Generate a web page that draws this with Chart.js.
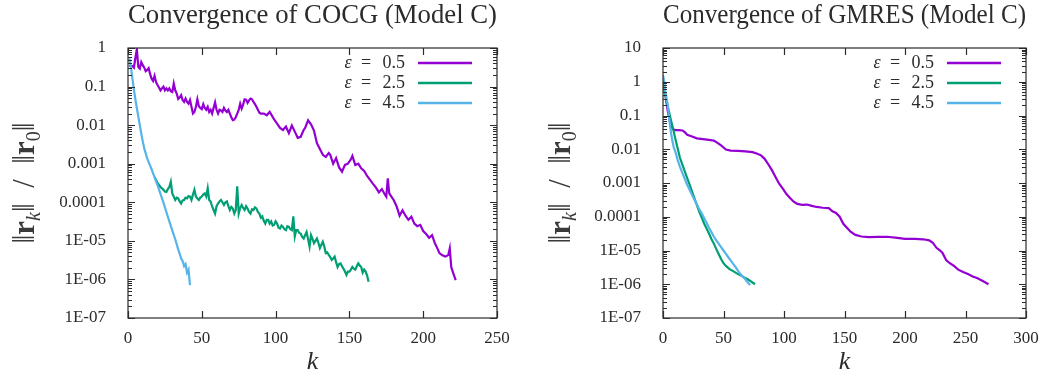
<!DOCTYPE html>
<html>
<head>
<meta charset="utf-8">
<script src="https://cdn.jsdelivr.net/npm/chart.js@4.4.1/dist/chart.umd.min.js"></script>
<style>
  html, body { margin: 0; padding: 0; background: #fff; }
  #wrap { position: relative; width: 1050px; height: 378px; }
  .panel { position: absolute; top: 0; width: 525px; height: 378px; }
</style>
</head>
<body>
<div id="wrap">
  <div class="panel" style="left:0"><canvas id="cocg" width="525" height="378"></canvas></div>
  <div class="panel" style="left:525px"><canvas id="gmres" width="525" height="378"></canvas></div>
</div>
<script>
// ---- shift parameters for the three runs ----
const epsValues = ['0.5', '2.5', '4.5'];
const seriesColors = ['#9400d3', '#009e73', '#56b4e9'];

// ---- axis ticks ----
const xTicksCocg = [0, 50, 100, 150, 200, 250];
const xTicksGmres = [0, 50, 100, 150, 200, 250, 300];
const yTicksCocg = [1, 0.1, 0.01, 0.001, 0.0001, 1e-5, 1e-6, 1e-7];
const yTickLabelsCocg = ['1', '0.1', '0.01', '0.001', '0.0001', '1E-05', '1E-06', '1E-07'];
const yTicksGmres = [10, 1, 0.1, 0.01, 0.001, 0.0001, 1e-5, 1e-6, 1e-7];
const yTickLabelsGmres = ['10', '1', '0.1', '0.01', '0.001', '0.0001', '1E-05', '1E-06', '1E-07'];

// ---- COCG, eps = 0.5 : iteration k and relative residual ----
const cocgK05 = [1,2,3,4,5,6,7,8,9,10,11,12,13,14,15,16,17,18,19,20,21,22,23,24,25,26,27,28,29,30,
  31,32,33,34,35,36,37,38,39,40,41,42,43,44,45,46,47,48,49,50,51,52,53,54,55,56,57,58,59,60,
  61,62,63,64,65,66,67,68,69,70,71,72,73,74,75,76,77,78,79,80,81,82,83,84,85,86,87,88,89,90,
  92,94,96,97,99,101,103,105,107,109,111,113,115,117,119,120,122,124,126,128,130,132,134,136,137,
  139,141,143,145,147,149,151,152,154,156,158,160,162,164,166,168,170,172,174,175,176,177,179,180,
  182,184,186,188,190,192,194,196,198,200,202,204,206,208,209,211,213,215,217,218,219,220,222];
const cocgRes05 = [0.36,0.33,0.34,0.31,0.55,0.93,0.32,0.29,0.43,0.36,0.31,0.25,0.27,0.3,0.21,0.16,0.14,0.19,0.13,0.11,
  0.095,0.08,0.09,0.1,0.08,0.09,0.08,0.09,0.076,0.072,0.12,0.08,0.066,0.048,0.052,0.06,0.045,0.04,0.049,0.04,
  0.036,0.045,0.03,0.02,0.022,0.03,0.047,0.031,0.028,0.026,0.035,0.028,0.025,0.03,0.022,0.025,0.02,0.028,0.039,0.025,
  0.02,0.025,0.024,0.022,0.028,0.024,0.022,0.025,0.02,0.016,0.0135,0.014,0.016,0.02,0.025,0.036,0.027,0.034,0.047,0.046,
  0.038,0.044,0.049,0.047,0.04,0.035,0.03,0.025,0.021,0.02,
  0.02,0.018,0.022,0.019,0.014,0.011,0.0085,0.0075,0.0092,0.0062,0.0098,0.0068,0.0047,0.005,0.0075,0.0085,0.0133,0.0105,0.0072,
  0.0034,0.0024,0.0017,0.0015,0.0019,0.0017,0.001,0.0014,0.0008,0.00062,0.00093,0.001,0.0013,0.0016,0.00093,0.001,
  0.00076,0.00065,0.00048,0.00038,0.0003,0.00024,0.00018,0.00022,0.00016,0.00014,0.00042,0.00017,0.00013,0.000115,
  7.8e-5,4.5e-5,6.2e-5,4.5e-5,3.5e-5,4.2e-5,2.8e-5,2.4e-5,2.6e-5,1.8e-5,1.5e-5,1.2e-5,1.4e-5,8.5e-6,7.2e-6,
  4.8e-6,4.2e-6,3.9e-6,4.3e-6,6.4e-6,2.1e-6,1.6e-6,9.6e-7];

// ---- COCG, eps = 2.5 : consecutive iterations starting at k = 18 ----
const cocgStart25 = 18;
const cocgRes25 = [4.5e-4,3.8e-4,3.2e-4,2.8e-4,2.5e-4,2.3e-4,2.1e-4,1.9e-4,1.86e-4,2.2e-4,
  2.5e-4,3.4e-4,1.7e-4,1.4e-4,1.15e-4,1.32e-4,1.26e-4,1.05e-4,9.3e-5,1.12e-4,
  1.15e-4,1.32e-4,1.26e-4,1.45e-4,1.41e-4,1.15e-4,1.58e-4,2.1e-4,1.41e-4,1.26e-4,
  1.15e-4,1.32e-4,1.41e-4,1.58e-4,1.7e-4,1.41e-4,2.3e-4,1.15e-4,1.05e-4,7.8e-5,
  6.3e-5,5.1e-5,7.9e-5,9.3e-5,1.05e-4,1.15e-4,1.0e-4,8.5e-5,1.0e-4,1.05e-4,
  7.9e-5,6.3e-5,7.6e-5,6.9e-5,5.1e-5,6.3e-5,2.6e-4,5.1e-5,7.1e-5,8.5e-5,
  7.1e-5,6.3e-5,7.9e-5,6.9e-5,5.6e-5,5.1e-5,6.6e-5,6.3e-5,7.4e-5,6.9e-5,
  5.6e-5,5.1e-5,4.0e-5,4.3e-5,3.3e-5,2.8e-5,3.5e-5,3.5e-5,2.8e-5,3.2e-5,
  2.5e-5,2.6e-5,3.2e-5,2.8e-5,2.2e-5,2.1e-5,2.5e-5,2.3e-5,2.0e-5,1.9e-5,
  2.4e-5,2.3e-5,2.0e-5,1.9e-5,4.3e-5,1.3e-5,1.9e-5,1.9e-5,1.6e-5,1.55e-5,
  1.26e-5,1.15e-5,1.4e-5,1.7e-5,1.12e-5,7.1e-6,1.4e-5,1.12e-5,8.7e-6,1.0e-5,
  1.15e-5,8.9e-6,6.5e-6,7.9e-6,9.5e-6,7.1e-6,4.8e-6,5.0e-6,4.3e-6,3.8e-6,
  3.2e-6,3.5e-6,3.9e-6,2.8e-6,2.1e-6,2.5e-6,2.6e-6,2.2e-6,1.9e-6,1.6e-6,
  1.3e-6,1.6e-6,1.6e-6,1.8e-6,2.1e-6,1.9e-6,1.8e-6,2.2e-6,2.6e-6,2.3e-6,
  2.1e-6,1.5e-6,1.8e-6,1.6e-6,1.26e-6,8.7e-7];

// ---- COCG, eps = 4.5 ----
const cocgK45 = [1,2,3,4,5,6,7,8,9,10,11,12,13,14,15,16,17,18,19,20,22,24,26,28,30,32,34,35,36,37,38,39,40,41,42];
const cocgRes45 = [0.54,0.32,0.16,0.083,0.047,0.0275,0.0166,0.01,0.006,0.0038,0.0025,0.00186,0.00138,0.0011,0.00089,
  0.00071,0.00056,0.00045,0.00035,0.00028,0.000166,9.8e-5,5.6e-5,3.2e-5,1.86e-5,1.1e-5,6.0e-6,4.7e-6,3.5e-6,3.0e-6,
  2.2e-6,2.5e-6,1.5e-6,1.8e-6,7.1e-7];

// ---- GMRES, eps = 0.5 ----
const gmresK05 = [0,2,4,6,8,10,13,16,18,20,24,28,33,38,42,45,48,52,56,62,68,74,78,81,84,87,90,93,96,99,
  102,105,108,111,115,119,123,127,132,137,140,143,146,149,152,155,159,164,170,178,185,192,200,208,215,
  220,223,226,229,231,234,237,240,244,248,252,256,260,265,269];
const gmresRes05 = [1.2,0.4,0.13,0.06,0.04,0.037,0.037,0.036,0.032,0.027,0.024,0.021,0.02,0.019,0.018,0.0155,0.013,
  0.0098,0.0091,0.0089,0.0086,0.0082,0.0074,0.0066,0.0052,0.0036,0.0024,0.0015,0.00095,0.00068,
  0.00047,0.00036,0.00028,0.00024,0.000225,0.00023,0.00021,0.000195,0.000185,0.00018,0.000145,0.00013,0.0001,
  6.2e-5,4.7e-5,3.6e-5,2.9e-5,2.6e-5,2.5e-5,2.52e-5,2.55e-5,2.4e-5,2.2e-5,2.2e-5,2.15e-5,
  2.0e-5,1.7e-5,1.2e-5,1.0e-5,8.5e-6,5.2e-6,4.2e-6,3.6e-6,2.7e-6,2.3e-6,2.0e-6,1.7e-6,1.5e-6,1.2e-6,1.0e-6];

// ---- GMRES, eps = 2.5 ----
const gmresK25 = [0,1,2,3,4,5,6,7,8,9,10,12,14,16,18,20,22,24,26,28,30,32,34,36,38,40,42,44,46,48,50,52,55,58,61,64,67,70,73,76];
const gmresRes25 = [1.3,0.63,0.4,0.25,0.178,0.126,0.089,0.063,0.045,0.032,0.022,0.011,0.0056,0.0035,0.0022,0.0014,
  0.00089,0.00056,0.00035,0.00022,0.00014,9.5e-5,6.3e-5,4.5e-5,3.2e-5,2.2e-5,1.6e-5,1.12e-5,7.9e-6,5.6e-6,
  4.2e-6,3.5e-6,2.8e-6,2.45e-6,2.1e-6,1.86e-6,1.6e-6,1.4e-6,1.2e-6,1.0e-6];

// ---- GMRES, eps = 4.5 ----
const gmresK45 = [0,1,2,3,4,5,6,7,8,9,10,12,14,16,18,20,22,24,26,28,30,32,34,36,38,40,42,44,46,48,50,52,54,56,58,60,62,64,66,68,70,72];
const gmresRes45 = [1.6,1.0,0.5,0.32,0.2,0.089,0.045,0.025,0.016,0.011,0.0089,0.005,0.003,0.002,0.00132,0.00089,
  0.00063,0.00044,0.00032,0.00023,0.000166,0.000126,9.1e-5,6.6e-5,4.7e-5,3.5e-5,2.6e-5,2.0e-5,1.6e-5,1.26e-5,
  1.0e-5,7.9e-6,6.3e-6,5.0e-6,4.0e-6,3.2e-6,2.5e-6,2.0e-6,1.66e-6,1.4e-6,1.15e-6,9.5e-7];

// ---------------------------------------------------------------
const SERIF = '"Liberation Serif", "DejaVu Serif", serif';
const INK = '#2b2b2b';

function toPoints(ks, vals) {
  return vals.map((v, i) => ({ x: ks[i], y: v }));
}
function iterations(start, count) {
  return Array.from({ length: count }, (_, i) => start + i);
}

// plot frame with inward major/minor ticks on all four sides
const framePlugin = {
  id: 'gnuFrame',
  afterDatasetsDraw(chart) {
    const { ctx, chartArea: a, scales: { x, y } } = chart;
    ctx.save();
    ctx.strokeStyle = INK;
    ctx.lineWidth = 1.2;
    ctx.strokeRect(a.left, a.top, a.right - a.left, a.bottom - a.top);
    ctx.beginPath();
    x.ticks.forEach(t => {
      const px = Math.round(x.getPixelForValue(t.value)) + 0.5;
      ctx.moveTo(px, a.bottom); ctx.lineTo(px, a.bottom - 7);
      ctx.moveTo(px, a.top); ctx.lineTo(px, a.top + 7);
    });
    const lo = Math.round(Math.log10(y.min));
    const hi = Math.round(Math.log10(y.max));
    for (let e = lo; e <= hi; e++) {
      for (let m = 1; m <= 9; m++) {
        const v = m * Math.pow(10, e);
        if (v > y.max * 1.0001) break;
        const py = Math.round(y.getPixelForValue(v)) + 0.5;
        const len = m === 1 ? 7 : 4;
        ctx.moveTo(a.left, py); ctx.lineTo(a.left + len, py);
        ctx.moveTo(a.right, py); ctx.lineTo(a.right - len, py);
      }
    }
    ctx.stroke();
    ctx.restore();
  }
};

// legend in the upper right of the plot: "ε = value" followed by a line sample
const epsLegendPlugin = {
  id: 'epsLegend',
  afterDatasetsDraw(chart) {
    const { ctx, chartArea: a } = chart;
    ctx.save();
    chart.data.datasets.forEach((ds, i) => {
      const yy = a.top + 15 + 20 * i;
      const [sym, val] = ds.label.split(' = ');
      ctx.fillStyle = INK;
      ctx.textBaseline = 'middle';
      ctx.font = `18px ${SERIF}`;
      ctx.textAlign = 'right';
      ctx.fillText(val, a.right - 92, yy);
      ctx.textAlign = 'center';
      ctx.fillText('=', a.right - 131, yy);
      ctx.font = `italic 18px ${SERIF}`;
      ctx.fillText(sym, a.right - 149, yy);
      ctx.strokeStyle = ds.borderColor;
      ctx.lineWidth = 2.4;
      ctx.beginPath();
      ctx.moveTo(a.right - 79, yy);
      ctx.lineTo(a.right - 25, yy);
      ctx.stroke();
    });
    ctx.restore();
  }
};

// rotated y-axis caption  ‖r_k‖ / ‖r_0‖
const normTitlePlugin = {
  id: 'normTitle',
  afterDraw(chart, args, opts) {
    const { ctx, chartArea: a } = chart;
    const big = 31, small = 20;
    const parts = [
      { t: '‖', f: `${big}px ${SERIF}` },
      { t: 'r', f: `bold ${big}px ${SERIF}` },
      { t: 'k', f: `italic ${small}px ${SERIF}`, dy: 6 },
      { t: '‖  /  ‖', f: `${big}px ${SERIF}` },
      { t: 'r', f: `bold ${big}px ${SERIF}` },
      { t: '0', f: `${small}px ${SERIF}`, dy: 6 },
      { t: '‖', f: `${big}px ${SERIF}` }
    ];
    ctx.save();
    let total = 0;
    parts.forEach(p => { ctx.font = p.f; p.w = ctx.measureText(p.t).width; total += p.w; });
    ctx.translate(opts.x, (a.top + a.bottom) / 2);
    ctx.rotate(-Math.PI / 2);
    ctx.fillStyle = '#3a3a3a';
    ctx.textBaseline = 'alphabetic';
    ctx.textAlign = 'left';
    let cx = -total / 2;
    parts.forEach(p => {
      ctx.font = p.f;
      ctx.fillText(p.t, cx, big * 0.33 + (p.dy || 0));
      cx += p.w;
    });
    ctx.restore();
  }
};

function makeChart(canvasId, cfg) {
  const datasets = cfg.series.map((pts, i) => ({
    label: `ε = ${epsValues[i]}`,
    data: pts,
    borderColor: seriesColors[i],
    backgroundColor: seriesColors[i],
    borderWidth: 2.2,
    pointRadius: 0,
    tension: 0,
    fill: false,
    order: cfg.series.length - i
  }));
  return new Chart(document.getElementById(canvasId), {
    type: 'line',
    data: { datasets },
    plugins: [framePlugin, epsLegendPlugin, normTitlePlugin],
    options: {
      responsive: false,
      animation: false,
      devicePixelRatio: 1,
      parsing: false,
      layout: { padding: { left: 0, right: cfg.padRight, top: 0, bottom: 0 } },
      plugins: {
        legend: { display: false },
        tooltip: { enabled: false },
        title: {
          display: true,
          text: cfg.title,
          fullSize: false,
          color: INK,
          font: { family: SERIF, size: 27, weight: 'normal' },
          padding: { top: 0, bottom: 15.6 }
        },
        normTitle: { x: cfg.yTitleX }
      },
      scales: {
        x: {
          type: 'linear',
          min: cfg.xTicks[0],
          max: cfg.xTicks[cfg.xTicks.length - 1],
          afterBuildTicks: s => { s.ticks = cfg.xTicks.map(v => ({ value: v })); },
          afterFit: s => { s.height = 60; },
          grid: { display: false },
          border: { display: false },
          ticks: { color: INK, font: { family: SERIF, size: 17 }, padding: 2, maxRotation: 0 },
          title: {
            display: true,
            text: 'k',
            color: INK,
            font: { family: SERIF, size: 26, style: 'italic' },
            padding: { top: 0, bottom: 0 }
          }
        },
        y: {
          type: 'logarithmic',
          min: cfg.yTicks[cfg.yTicks.length - 1],
          max: cfg.yTicks[0],
          afterBuildTicks: s => { s.ticks = cfg.yTicks.map(v => ({ value: v })); },
          afterFit: s => { s.width = cfg.axisLeft; },
          grid: { display: false },
          border: { display: false },
          ticks: {
            autoSkip: false,
            color: INK,
            font: { family: SERIF, size: 17 },
            padding: 14,
            callback: v => {
              const idx = cfg.yTicks.findIndex(t => Math.abs(Math.log10(t) - Math.log10(v)) < 1e-6);
              return idx >= 0 ? cfg.yLabels[idx] : '';
            }
          }
        }
      }
    }
  });
}

makeChart('cocg', {
  title: 'Convergence of COCG (Model C)',
  series: [
    toPoints(cocgK05, cocgRes05),
    toPoints(iterations(cocgStart25, cocgRes25.length), cocgRes25),
    toPoints(cocgK45, cocgRes45)
  ],
  xTicks: xTicksCocg,
  yTicks: yTicksCocg,
  yLabels: yTickLabelsCocg,
  axisLeft: 128,
  padRight: 28,
  yTitleX: 24
});

makeChart('gmres', {
  title: 'Convergence of GMRES (Model C)',
  series: [
    toPoints(gmresK05, gmresRes05),
    toPoints(gmresK25, gmresRes25),
    toPoints(gmresK45, gmresRes45)
  ],
  xTicks: xTicksGmres,
  yTicks: yTicksGmres,
  yLabels: yTickLabelsGmres,
  axisLeft: 138,
  padRight: 24,
  yTitleX: 35
});
</script>
</body>
</html>
